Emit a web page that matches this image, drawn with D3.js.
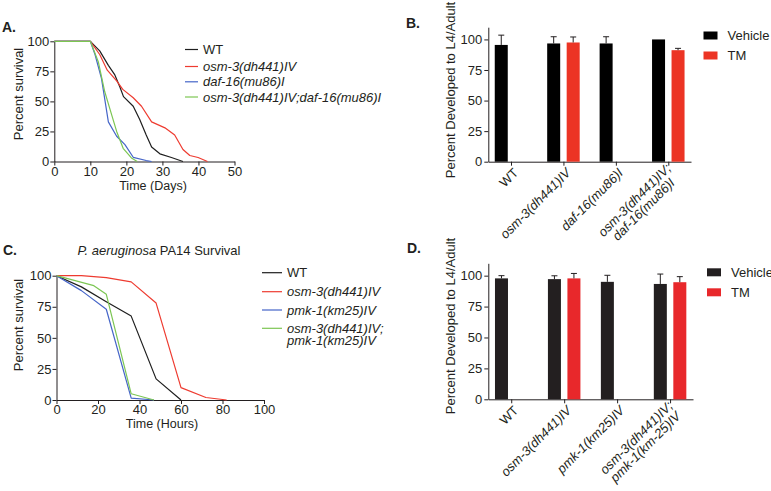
<!DOCTYPE html>
<html>
<head>
<meta charset="utf-8">
<script src="https://cdn.jsdelivr.net/npm/d3@7"></script>
<style>
  body { margin: 0; background: #fff; }
  svg { font-family: "Liberation Sans", Arial, Helvetica, sans-serif; }
  .axis path, .axis line { stroke: #231f20; stroke-width: 1; }
  .axis text { font-size: 13px; fill: #231f20; }
</style>
</head>
<body>
<svg id="fig" width="771" height="491"></svg>
<script>
// ─── DATA ────────────────────────────────────────────────────────────────
// Panel A: lifespan, [day, % alive]
const aWT     = [[0,100],[10,100],[12.6,92],[15,80],[16.8,72],[18.2,62],[19.2,54],[21.9,46],[23.7,35],[25.5,22],[27,12],[29.3,6.4],[32.5,3.3],[35.7,0]];
const aOsm3   = [[0,100],[10,100],[12.6,89],[14.7,76],[17.3,67],[19,60],[21.9,53],[24.2,46],[27,33],[30.7,28],[33.4,22],[35.7,10],[37.6,5],[39.9,3.3],[42.5,0]];
const aDaf16  = [[0,100],[10,100],[11.3,89],[13.1,69],[15,33],[17.3,21],[19.6,14],[21.9,3.5],[25.5,0.8],[27,0]];
const aDouble = [[0,100],[10,100],[12.2,83],[14,58],[15.9,39],[17.3,25],[19.1,11],[21.4,3],[23,0]];

// Panel C: PA14 survival, [hour, % alive]
const cWT     = [[0,100],[12,91],[24,79],[36,67.5],[48,17],[60,0]];
const cOsm3   = [[0,100],[12,100],[24,98.5],[36,95],[48,78],[60,10],[72,2],[82,0]];
const cPmk1   = [[0,100],[12,88],[24,73],[36,1.5],[47,0]];
const cDouble = [[0,100],[18,92],[24,85],[36,5],[47,0]];

// Panels B and D: % developed to L4/adult (null = not tested)
const bCats       = [["WT"], ["osm-3(dh441)IV"], ["daf-16(mu86)I"], ["osm-3(dh441)IV;", "daf-16(mu86)I"]];
const bVehicle    = [95.5, 96.7, 96.7, 100];
const bVehicleErr = [8, 5.5, 5.5, 0];
const bTM         = [null, 97.5, null, 91.2];
const bTMErr      = [null, 4.5, null, 1.5];

const dCats       = [["WT"], ["osm-3(dh441)IV"], ["pmk-1(km25)IV"], ["osm-3(dh441)IV;", "pmk-1(km-25)IV"]];
const dVehicle    = [97.8, 97.2, 95, 93.3];
const dVehicleErr = [2.2, 2.7, 5.3, 8];
const dTM         = [null, 97.8, null, 94.7];
const dTMErr      = [null, 4, null, 4.5];

const survTicks = [0, 25, 50, 75, 100];
const daysTicks = [0, 10, 20, 30, 40, 50];
const hoursTicks = [0, 20, 40, 60, 80, 100];

const RED = "#ee3b30", BLUE = "#4565c8", GREEN = "#7cc653", BLACK = "#1e1e1e";

const fig = d3.select("#fig");

// ─── HELPERS ─────────────────────────────────────────────────────────────
function label(x, y, txt, opts = {}) {
  const t = fig.append("text")
    .attr("x", x).attr("y", y)
    .attr("font-size", opts.size || 13)
    .attr("fill", "#231f20")
    .attr("text-anchor", opts.anchor || "start")
    .attr("font-weight", opts.bold ? "bold" : null)
    .attr("font-style", opts.italic ? "italic" : null);
  if (opts.rotate) t.attr("transform", `rotate(${opts.rotate},${x},${y})`);
  t.text(txt);
  return t;
}

function survivalPanel(p) {
  const x = d3.scaleLinear().domain(p.xDomain).range(p.xRange);
  const y = d3.scaleLinear().domain([0, 100]).range(p.yRange);
  const g = fig.append("g");

  g.append("g").attr("class", "axis")
    .attr("transform", `translate(0,${p.yRange[0]})`)
    .call(d3.axisBottom(x).tickValues(p.xTicks).tickSize(4).tickPadding(1).tickSizeOuter(0));
  g.append("g").attr("class", "axis")
    .attr("transform", `translate(${p.xRange[0]},0)`)
    .call(d3.axisLeft(y).tickValues(survTicks).tickSize(4).tickPadding(1).tickSizeOuter(0));

  const line = d3.line().x(d => x(d[0])).y(d => y(d[1]));
  p.series.forEach(s => {
    g.append("path").datum(s.data)
      .attr("d", line)
      .attr("fill", "none")
      .attr("stroke", s.color)
      .attr("stroke-width", 1.2)
      .attr("stroke-linejoin", "round");
  });

  // legend
  p.series.forEach((s, i) => {
    const cy = p.legend.rows[i];
    g.append("line")
      .attr("x1", p.legend.x).attr("x2", p.legend.x + p.legend.len)
      .attr("y1", cy).attr("y2", cy)
      .attr("stroke", s.color).attr("stroke-width", 1.2);
    s.label.forEach((ln, j) => {
      label(p.legend.x + p.legend.len + 5, cy + 4.6 + j * 12, ln, { italic: ln !== "WT" });
    });
  });
}

function barPanel(p) {
  const x = d3.scalePoint().domain(d3.range(p.cats.length)).range(p.xRange).padding(0.433);
  const sub = d3.scaleBand().domain(["Vehicle", "TM"]).range([-16.25, 16.25]).paddingInner(0.333);
  const y = d3.scaleLinear().domain([0, 110]).range(p.yRange);
  const g = fig.append("g");

  g.append("g").attr("class", "axis")
    .attr("transform", `translate(${p.xRange[0]},0)`)
    .call(d3.axisLeft(y).tickValues(survTicks).tickSize(4).tickPadding(2).tickSizeOuter(0));
  g.append("g").attr("class", "axis")
    .attr("transform", `translate(0,${p.yRange[0]})`)
    .call(d3.axisBottom(x).tickSize(4).tickFormat("").tickSizeOuter(0));

  const groups = [
    { key: "Vehicle", vals: p.vehicle, errs: p.vehicleErr, color: p.vehColor },
    { key: "TM", vals: p.tm, errs: p.tmErr, color: p.tmColor }
  ];
  groups.forEach(gr => {
    gr.vals.forEach((v, i) => {
      if (v == null) return;
      const bx = x(i) + sub(gr.key);
      const bw = sub.bandwidth();
      g.append("rect")
        .attr("x", bx).attr("y", y(v))
        .attr("width", bw).attr("height", y(0) - y(v))
        .attr("fill", gr.color);
      const e = gr.errs[i];
      if (e > 0) {
        const cx = bx + bw / 2;
        g.append("line").attr("x1", cx).attr("x2", cx)
          .attr("y1", y(v)).attr("y2", y(v + e))
          .attr("stroke", "#231f20").attr("stroke-width", 1);
        g.append("line").attr("x1", cx - 3).attr("x2", cx + 3)
          .attr("y1", y(v + e)).attr("y2", y(v + e))
          .attr("stroke", "#231f20").attr("stroke-width", 1);
      }
    });
  });

  // rotated category labels
  p.cats.forEach((lines, i) => {
    const lg = g.append("g")
      .attr("transform", `translate(${x(i) + 8},${p.yRange[0] + 12}) rotate(-45)`);
    const n = lines.length;
    const texts = lines.map((s, j) => lg.append("text")
      .attr("y", (j - (n - 1) / 2) * 13)
      .attr("font-size", 13)
      .attr("fill", "#231f20")
      .attr("text-anchor", "middle")
      .attr("font-style", s === "WT" ? null : "italic")
      .text(s));
    const w = d3.max(texts, t => t.node().getComputedTextLength());
    texts.forEach(t => t.attr("x", -w / 2));
  });

  // legend
  [["Vehicle", p.vehColor], ["TM", p.tmColor]].forEach(([name, col], k) => {
    const ly = p.legend.y + k * 20;
    g.append("rect").attr("x", p.legend.x).attr("y", ly)
      .attr("width", 14).attr("height", 8).attr("fill", col);
    label(p.legend.x + 24, ly + 8.5, name);
  });
}

// ─── PANEL A ─────────────────────────────────────────────────────────────
label(2, 32, "A.", { bold: true, size: 14 });
survivalPanel({
  xDomain: [0, 50], xRange: [54.3, 234.5], yRange: [161.5, 41.3], xTicks: daysTicks,
  series: [
    { data: aWT, color: BLACK, label: ["WT"] },
    { data: aOsm3, color: RED, label: ["osm-3(dh441)IV"] },
    { data: aDaf16, color: BLUE, label: ["daf-16(mu86)I"] },
    { data: aDouble, color: GREEN, label: ["osm-3(dh441)IV;daf-16(mu86)I"] }
  ],
  legend: { x: 185, len: 13, rows: [49.5, 66.5, 81.8, 97] }
});
label(22.5, 94, "Percent survival", { anchor: "middle", rotate: -90 });
label(153, 189.5, "Time (Days)", { anchor: "middle", size: 12.5 });

// ─── PANEL B ─────────────────────────────────────────────────────────────
label(406, 28, "B.", { bold: true, size: 14 });
barPanel({
  cats: bCats, vehicle: bVehicle, vehicleErr: bVehicleErr, tm: bTM, tmErr: bTMErr,
  xRange: [488.3, 691], yRange: [161.7, 27.2],
  vehColor: "#000000", tmColor: "#ec3424",
  legend: { x: 703.5, y: 31.5 }
});
label(455, 90, "Percent Developed to L4/Adult", { anchor: "middle", rotate: -90 });

// ─── PANEL C ─────────────────────────────────────────────────────────────
label(3, 255, "C.", { bold: true, size: 14 });
const title = label(159, 255, "", { anchor: "middle" });
title.append("tspan").attr("font-style", "italic").text("P. aeruginosa");
title.append("tspan").text(" PA14 Survival");
survivalPanel({
  xDomain: [0, 100], xRange: [56.5, 264], yRange: [400, 275.7], xTicks: hoursTicks,
  series: [
    { data: cWT, color: BLACK, label: ["WT"] },
    { data: cOsm3, color: RED, label: ["osm-3(dh441)IV"] },
    { data: cPmk1, color: BLUE, label: ["pmk-1(km25)IV"] },
    { data: cDouble, color: GREEN, label: ["osm-3(dh441)IV;", "pmk-1(km25)IV"] }
  ],
  legend: { x: 262, len: 20, rows: [272.7, 291.7, 310, 328.3] }
});
label(22.5, 325, "Percent survival", { anchor: "middle", rotate: -90 });
label(162, 428, "Time (Hours)", { anchor: "middle", size: 12.5 });

// ─── PANEL D ─────────────────────────────────────────────────────────────
label(407, 253, "D.", { bold: true, size: 14 });
barPanel({
  cats: dCats, vehicle: dVehicle, vehicleErr: dVehicleErr, tm: dTM, tmErr: dTMErr,
  xRange: [488.3, 693], yRange: [399.3, 263.3],
  vehColor: "#231f20", tmColor: "#e8282b",
  legend: { x: 707, y: 268.3 }
});
label(455, 326, "Percent Developed to L4/Adult", { anchor: "middle", rotate: -90 });
</script>
</body>
</html>
